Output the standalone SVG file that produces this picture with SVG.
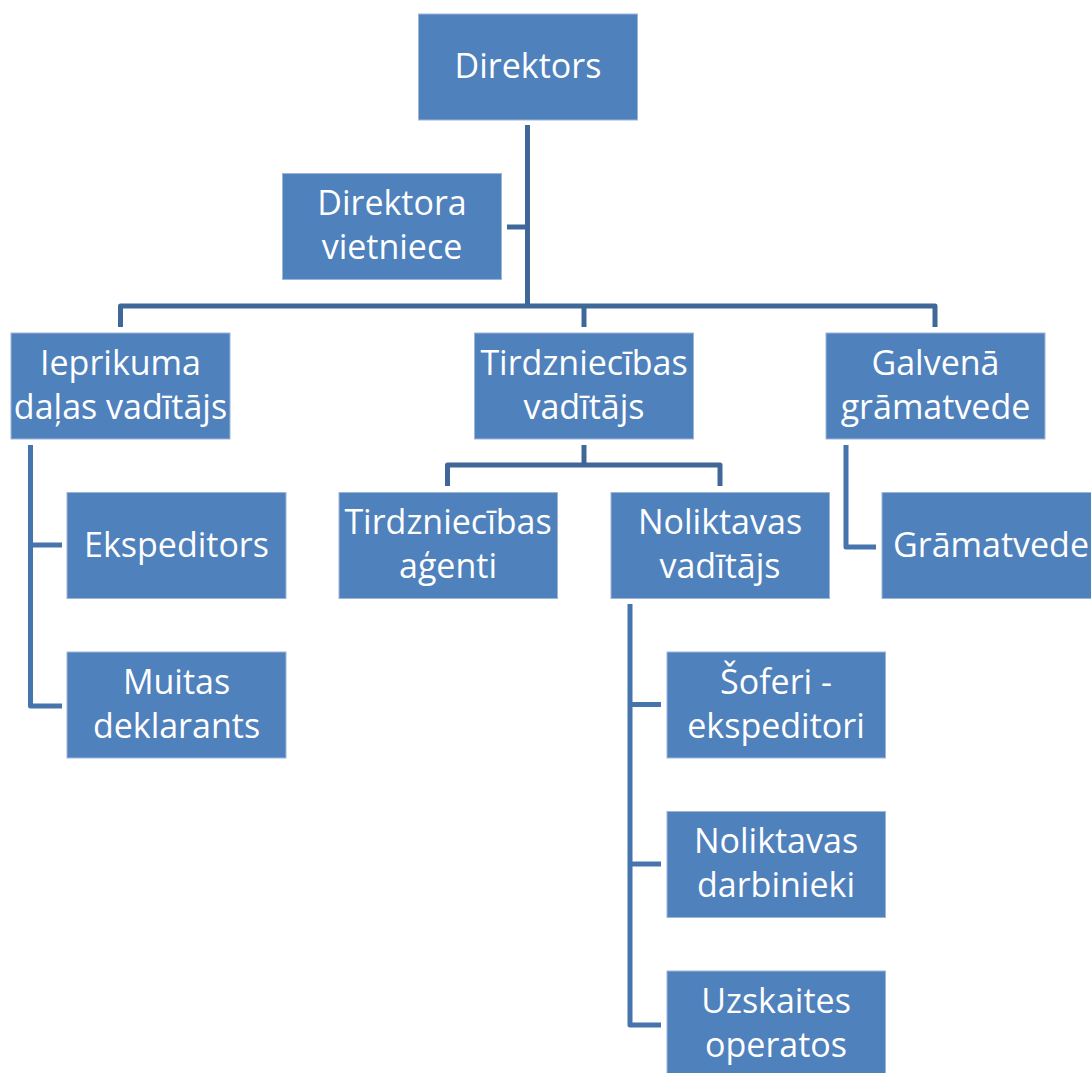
<svg xmlns="http://www.w3.org/2000/svg" width="1091" height="1073" viewBox="0 0 1091 1073">
<style>
.box{fill:#4F81BD;stroke:#9DB6D8;stroke-width:1}
.t{font-family:"Open Sans","Noto Sans","Liberation Sans",sans-serif;font-size:34px;fill:#FFFFFF;text-anchor:middle}
.c1{fill:none;stroke:#3F6797;stroke-width:5;stroke-linejoin:round}
.c2{fill:none;stroke:#4674AC;stroke-width:5;stroke-linejoin:round}
</style>
<rect width="1091" height="1073" fill="#FFFFFF"/>
<g id="connectors">
<path class="c1" d="M527.5 125 V306"/>
<path class="c1" d="M507 227 H527.5"/>
<path class="c1" d="M120.5 327 V306 H935 V327"/>
<path class="c1" d="M584 306 V327"/>
<path class="c1" d="M584 445 V465"/>
<path class="c1" d="M447.5 486 V465 H720 V486"/>
<path class="c2" d="M30.5 445 V706 H62"/>
<path class="c2" d="M30.5 545 H62"/>
<path class="c2" d="M846 445 V547 H876"/>
<path class="c2" d="M630 604 V1025 H661"/>
<path class="c2" d="M630 704.5 H661"/>
<path class="c2" d="M630 864 H661"/>
</g>
<g id="n-direktors"><rect class="box" x="418.5" y="14" width="219" height="106"/><text class="t" x="528" y="78">Direktors</text></g>
<g id="n-vietniece"><rect class="box" x="282.5" y="173.5" width="219" height="106"/><text class="t" x="392" y="215">Direktora</text><text class="t" x="392" y="259">vietniece</text></g>
<g id="n-ieprikuma"><rect class="box" x="11" y="333" width="219" height="106"/><text class="t" x="120.5" y="375">Ieprikuma</text><text class="t" x="120.5" y="419">daļas vadītājs</text></g>
<g id="n-tirdz-vad"><rect class="box" x="474.5" y="333" width="219" height="106"/><text class="t" x="584" y="375">Tirdzniecības</text><text class="t" x="584" y="419">vadītājs</text></g>
<g id="n-galvena"><rect class="box" x="826" y="333" width="219" height="106"/><text class="t" x="935.5" y="375">Galvenā</text><text class="t" x="935.5" y="419">grāmatvede</text></g>
<g id="n-ekspeditors"><rect class="box" x="67" y="492.5" width="219" height="106"/><text class="t" x="176.5" y="557">Ekspeditors</text></g>
<g id="n-muitas"><rect class="box" x="67" y="652" width="219" height="106"/><text class="t" x="176.5" y="694">Muitas</text><text class="t" x="176.5" y="738">deklarants</text></g>
<g id="n-agenti"><rect class="box" x="339" y="492.5" width="218.5" height="106"/><text class="t" x="448" y="534">Tirdzniecības</text><text class="t" x="448" y="578">aģenti</text></g>
<g id="n-noliktavas-vad"><rect class="box" x="611" y="492.5" width="218.5" height="106"/><text class="t" x="720" y="534">Noliktavas</text><text class="t" x="720" y="578">vadītājs</text></g>
<g id="n-gramatvede"><rect class="box" x="882" y="492.5" width="219" height="106"/><text class="t" x="991" y="557">Grāmatvede</text></g>
<g id="n-soferi"><rect class="box" x="667" y="652" width="218.5" height="106"/><text class="t" x="776" y="694">Šoferi -</text><text class="t" x="776" y="738">ekspeditori</text></g>
<g id="n-darbinieki"><rect class="box" x="667" y="811.5" width="218.5" height="106"/><text class="t" x="776" y="853">Noliktavas</text><text class="t" x="776" y="897">darbinieki</text></g>
<g id="n-uzskaites"><rect class="box" x="667" y="971" width="218.5" height="106"/><text class="t" x="776" y="1013">Uzskaites</text><text class="t" x="776" y="1057">operatos</text></g>
</svg>
